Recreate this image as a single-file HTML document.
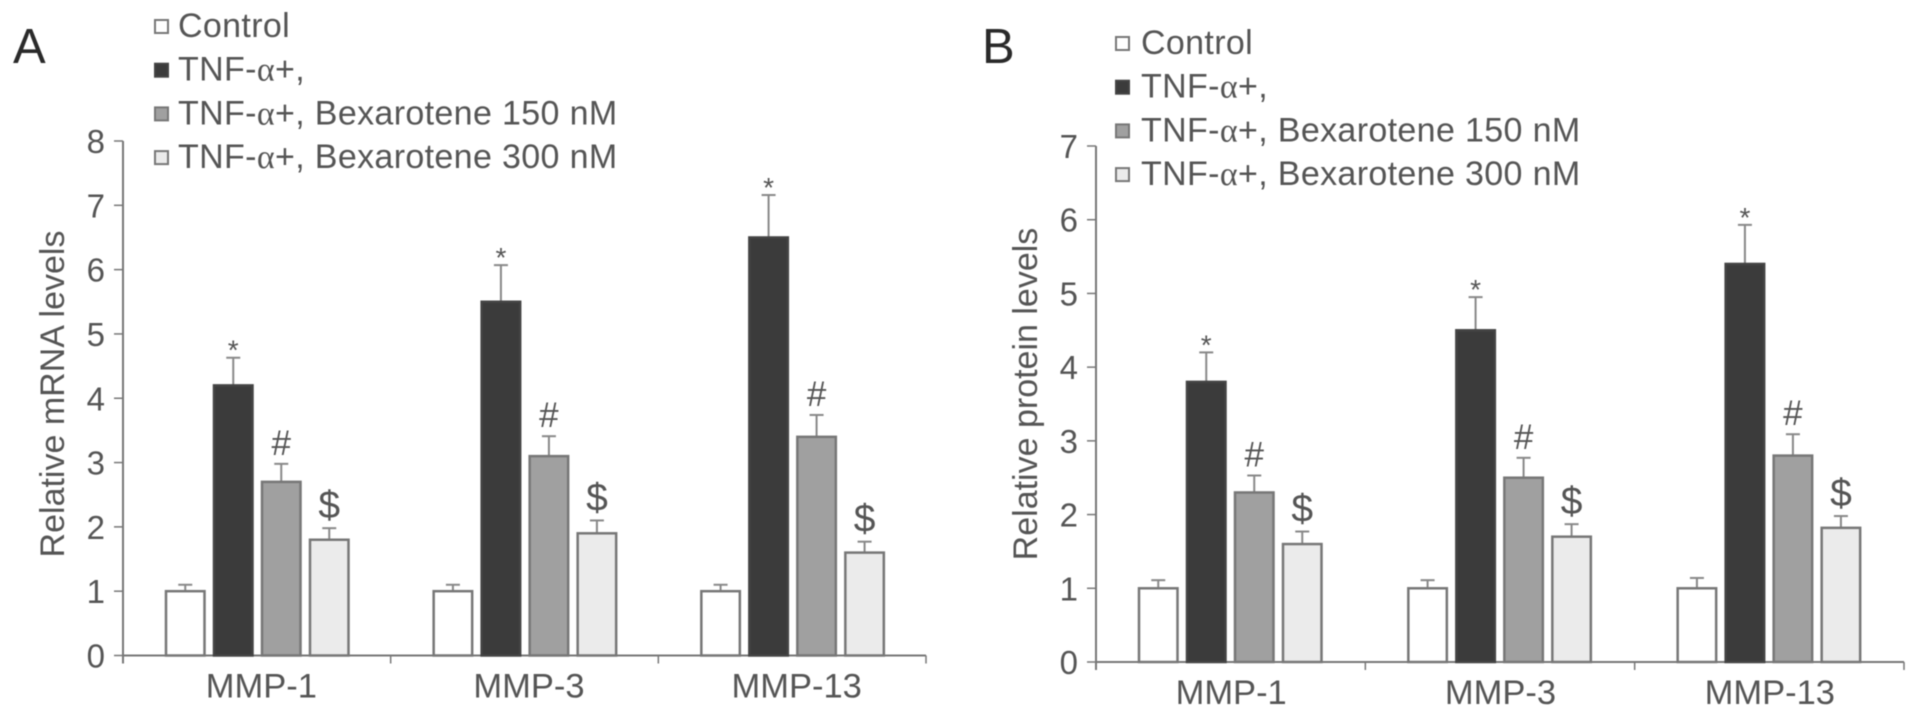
<!DOCTYPE html>
<html lang="en">
<head>
<meta charset="utf-8">
<title>Relative mRNA and protein levels</title>
<style>
html,body{margin:0;padding:0;background:#fff;width:1913px;height:717px;overflow:hidden}
svg{display:block;filter:blur(0.55px)}
text{font-family:"Liberation Sans",sans-serif;fill:#555}
.alpha{font-family:"Liberation Serif",serif}
</style>
</head>
<body>
<svg id="chart" xmlns="http://www.w3.org/2000/svg" width="1913" height="717" viewBox="0 0 1913 717"></svg>
<script>
const categories = ['MMP-1', 'MMP-3', 'MMP-13'];
const seriesNames = ['Control', 'TNF-α+,', 'TNF-α+, Bexarotene 150 nM', 'TNF-α+, Bexarotene 300 nM'];
const seriesMarks = ['', '*', '#', '$'];

const mrnaTicks = [0, 1, 2, 3, 4, 5, 6, 7, 8];
const mrnaControl = [1, 1, 1];
const mrnaTnf = [4.2, 5.5, 6.5];
const mrna150 = [2.7, 3.1, 3.4];
const mrna300 = [1.8, 1.9, 1.6];
const mrnaControlErr = [0.1, 0.1, 0.1];
const mrnaTnfErr = [0.43, 0.57, 0.66];
const mrna150Err = [0.28, 0.31, 0.34];
const mrna300Err = [0.18, 0.2, 0.17];

const proteinTicks = [0, 1, 2, 3, 4, 5, 6, 7];
const proteinControl = [1, 1, 1];
const proteinTnf = [3.8, 4.5, 5.4];
const protein150 = [2.3, 2.5, 2.8];
const protein300 = [1.6, 1.7, 1.82];
const proteinControlErr = [0.11, 0.11, 0.14];
const proteinTnfErr = [0.4, 0.45, 0.53];
const protein150Err = [0.23, 0.27, 0.29];
const protein300Err = [0.17, 0.17, 0.16];

const NS = 'http://www.w3.org/2000/svg';
const root = document.getElementById('chart');
const fills = ['#ffffff', '#3b3b3b', '#a0a0a0', '#ebebeb'];
const strokes = ['#777777', '#444444', '#777777', '#777777'];

function make(tag, attrs, parent) {
  const el = document.createElementNS(NS, tag);
  for (const k in attrs) el.setAttribute(k, attrs[k]);
  (parent || root).appendChild(el);
  return el;
}

function legendText(parent, label, x, y) {
  const t = make('text', {x: x, y: y, 'font-size': 34, 'letter-spacing': 0.35}, parent);
  label.split('α').forEach(function (part, i) {
    if (i > 0) {
      const a = make('tspan', {class: 'alpha'}, t);
      a.textContent = 'α';
    }
    const s = make('tspan', {}, t);
    s.textContent = part;
  });
  return t;
}

function drawPanel(cfg) {
  const g = make('g', {});
  
  

  const maxTick = cfg.ticks[cfg.ticks.length - 1];
  const yScale = function (v) { return cfg.y0 - (v / maxTick) * (cfg.y0 - cfg.yTop); };
  const bandStep = (cfg.xEnd - cfg.x0) / categories.length;
  const xBand = function (c) { return cfg.x0 + c * bandStep; };
  const barX = function (c, s) { return xBand(c) + 43 + s * 48; };
  const barW = 38.5;

  // panel letter
  const letter = make('text', {x: cfg.letterX, y: 63, 'font-size': 49, style: 'fill:#2a2a2a'}, g);
  letter.textContent = cfg.letter;
  
  

  // axis title
  const title = make('text', {
    x: 0, y: 0, 'font-size': 34, 'text-anchor': 'middle',
    transform: 'translate(' + cfg.titleX + ',' + cfg.titleY + ') rotate(-90)'
  }, g);
  title.textContent = cfg.title;
  
  

  // y axis
  const yAxis = make('line', {x1: cfg.x0, x2: cfg.x0, y1: cfg.yTop, y2: cfg.y0 + 8, stroke: '#777', 'stroke-width': 2}, g);
  
  

  cfg.ticks.forEach(function (t) {
    const y = yScale(t);
    const tick = make('line', {x1: cfg.x0 - 9, x2: cfg.x0, y1: y, y2: y, stroke: '#777', 'stroke-width': 1.5}, g);
    
    
    const label = make('text', {x: cfg.x0 - 18, y: y + 12, 'font-size': 33, 'text-anchor': 'end'}, g);
    label.textContent = t;
    
    
  });

  // x axis
  const xAxis = make('line', {x1: cfg.x0, x2: cfg.xEnd, y1: cfg.y0, y2: cfg.y0, stroke: '#777', 'stroke-width': 2}, g);
  
  

  for (let i = 1; i <= categories.length; i++) {
    const xt = make('line', {x1: xBand(i), x2: xBand(i), y1: cfg.y0, y2: cfg.y0 + 8, stroke: '#777', 'stroke-width': 1.5}, g);
    
    
  }

  categories.forEach(function (cat, c) {
    const label = make('text', {x: xBand(c) + bandStep / 2 + cfg.labelDx, y: cfg.y0 + cfg.labelDy, 'font-size': 34.5, 'text-anchor': 'middle'}, g);
    label.textContent = cat;
    
    

    cfg.values.forEach(function (series, s) {
      const x = barX(c, s);
      const v = series[c];
      const top = yScale(v);
      const errTop = yScale(v + cfg.errors[s][c]);
      const cx = x + barW / 2;

      const err = make('line', {x1: cx, x2: cx, y1: top, y2: errTop, stroke: '#888', 'stroke-width': 2}, g);
      
      
      const cap = make('line', {x1: cx - 7, x2: cx + 7, y1: errTop, y2: errTop, stroke: '#888', 'stroke-width': 2}, g);
      
      

      const bar = make('rect', {x: x, y: top, width: barW, height: cfg.y0 - top, fill: fills[s], stroke: strokes[s], 'stroke-width': 2.5}, g);
      
      

      if (seriesMarks[s]) {
        const sym = seriesMarks[s];
        const mark = make('text', {
          x: cx,
          y: sym === '*' ? errTop + 2 : (sym === '#' ? errTop - 9 : errTop - 10),
          'font-size': sym === '*' ? 28 : (sym === '#' ? 35 : 39),
          'text-anchor': 'middle'
        }, g);
        mark.textContent = sym;
        
        
      }
    });
  });

  // legend
  const legend = make('g', {}, g);
  
  
  seriesNames.forEach(function (name, s) {
    const baseline = cfg.legendY + s * cfg.legendStep;
    const sw = make('rect', {x: cfg.legendX, y: baseline - 17, width: 13, height: 13, fill: fills[s], stroke: strokes[s], 'stroke-width': 2}, legend);
    
    
    const txt = legendText(legend, name, cfg.legendX + cfg.legendGap, baseline);
    
    
  });
}

drawPanel({
  key: 'mrna', letter: 'A', letterX: 13, title: 'Relative mRNA levels',
  titleX: 64, titleY: 394, x0: 123, xEnd: 926, y0: 655.5, yTop: 141, labelDy: 42, labelDx: 4.5,
  ticks: mrnaTicks,
  values: [mrnaControl, mrnaTnf, mrna150, mrna300],
  errors: [mrnaControlErr, mrnaTnfErr, mrna150Err, mrna300Err],
  legendX: 155, legendY: 37, legendStep: 43.7, legendGap: 23
});

drawPanel({
  key: 'protein', letter: 'B', letterX: 982, title: 'Relative protein levels',
  titleX: 1037, titleY: 394, x0: 1096, xEnd: 1904, y0: 662, yTop: 146, labelDy: 42, labelDx: 0.5,
  ticks: proteinTicks,
  values: [proteinControl, proteinTnf, protein150, protein300],
  errors: [proteinControlErr, proteinTnfErr, protein150Err, protein300Err],
  legendX: 1116, legendY: 54, legendStep: 43.7, legendGap: 25
});
</script>
</body>
</html>
